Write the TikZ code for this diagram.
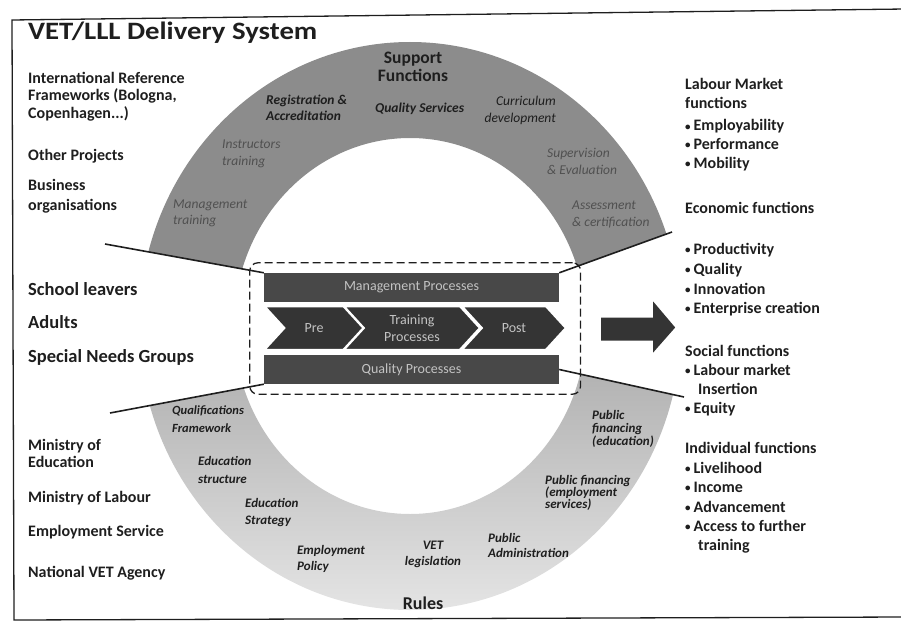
\documentclass[tikz,border=0pt]{standalone}
\usepackage{fontspec}
\setmainfont{Carlito}
\newfontfamily\widefont{Carlito}[FakeStretch=1.15]
\usepackage{tikz}
\usetikzlibrary{arrows.meta,positioning,shapes.symbols,fit,calc}
\definecolor{supportgray}{RGB}{140,140,140}
\definecolor{rulesdark}{RGB}{110,110,110}
\definecolor{ruleslight}{RGB}{228,228,228}
\definecolor{barfill}{RGB}{72,72,72}
\definecolor{chevfill}{RGB}{52,52,52}
\definecolor{bartext}{RGB}{195,195,195}
\definecolor{ink}{RGB}{30,30,30}
\definecolor{softink}{RGB}{80,80,80}
\newcommand{\dotitem}{\raisebox{1pt}{\fontsize{11}{11}\selectfont•}\hspace{3pt}}

\begin{document}
\begin{tikzpicture}[x=1pt,y=-1pt,>=Stealth,
          lefttext/.style={anchor=base west,inner sep=0,text=ink,
                           font=\bfseries\fontsize{16}{18}\selectfont},
          bigtext/.style={lefttext,font=\bfseries\fontsize{18.5}{20}\selectfont},
          righttext/.style={lefttext},
          supportlabel/.style={anchor=north west,inner sep=0,align=left,
                               text=softink,font=\itshape\fontsize{13.5}{17}\selectfont},
          ruleslabel/.style={anchor=north west,inner sep=0,align=left,text=ink,
                             font=\bfseries\itshape\fontsize{13}{16.5}\selectfont},
          procbar/.style={fill=barfill,minimum width=295,minimum height=29,
                          inner sep=0,text=bartext,font=\fontsize{14}{16}\selectfont},
          chev/.style={signal,signal from=west,signal to=east,signal pointer angle=95,
                       fill=chevfill,draw=white,line width=1.5pt,minimum height=43,
                       inner sep=0,text=bartext,align=center,
                       font=\fontsize{14}{17}\selectfont},
          link/.style={draw=ink,line width=1.6pt}]
  \useasboundingbox (0,0) rectangle (901,623);
  % frame of the page
  \draw[ink,line width=1.3pt] (905,9) -- (12,20) -- (14,620) -- (905,617);
  \node[lefttext,font=\widefont\bfseries\fontsize{25}{28}\selectfont] (title) at (28,40) {VET/LLL Delivery System};

  % support functions (upper band)
  \begin{scope}
    \clip (0,0) -- (0,225) -- (264,273) -- (559,273) -- (720,214) -- (720,0) -- cycle;
    \fill[supportgray,even odd rule] (410,326) ellipse [x radius=271,y radius=284]
                                     (410,326) ellipse [x radius=176,y radius=188];
  \end{scope}
  % rules (lower band)
  \begin{scope}
    \clip (0,623) -- (0,434) -- (264,384) -- (559,369) -- (720,405) -- (720,623) -- cycle;
    \shade[top color=rulesdark,bottom color=ruleslight,even odd rule]
          (410,326) ellipse [x radius=271,y radius=284]
          (410,326) ellipse [x radius=176,y radius=188];
  \end{scope}

  % processes
  \node[procbar] (mgmt) at (411.5,287.5) {Management Processes};
  \node[procbar] (quality) at (411.5,369.5) {Quality Processes};
  \node[chev,minimum width=98] (pre) at (314,328) {Pre};
  \node[chev,minimum width=135] (training) at (412,328) {Training\\Processes};
  \node[chev,minimum width=103] (post) at (514,328) {Post};
  \node[draw=ink,dash pattern=on 8pt off 4pt,line width=1.3pt,rounded corners=8,
        inner xsep=14,inner ysep=10,fit=(mgmt)(quality)(pre)(post)] (core) {};
  \fill[chevfill] ($(core.east)+(20,-11)$) -- ++(52,0) -- ++(0,-16) -- ++(22,26)
        -- ++(-22,25) -- ++(0,-12) -- ++(-52,0) -- cycle;

  \coordinate (inleft) at (105,244);
  \coordinate (inright) at (672,232);
  \coordinate (outleft) at (110,413);
  \coordinate (outright) at (684,397);
  \draw[link] (inleft) -- (mgmt.north west);
  \draw[link] (mgmt.north east) -- (inright);
  \draw[link] (outleft) -- (quality.south west);
  \draw[link] (quality.east) -- (outright);

  % labels on the upper band
  \node[font=\bfseries\fontsize{17.5}{18.5}\selectfont,text=ink,align=center] (support) at (413,67) {Support\\Functions};
  \node[supportlabel,text=ink,font=\bfseries\itshape\fontsize{13.5}{16}\selectfont] (regis) at (266,95) {Registration \&\\Accreditation};
  \node[supportlabel,text=ink,font=\bfseries\itshape\fontsize{13.5}{16}\selectfont] (qserv) at (375,103) {Quality Services};
  \node[supportlabel,text=ink,align=right,anchor=north east] (curric) at (556,96) {Curriculum\\development};
  \node[supportlabel] (instr) at (222,140) {Instructors\\training};
  \node[supportlabel] (superv) at (547,148) {Supervision\\\& Evaluation};
  \node[supportlabel,font=\itshape\fontsize{13.5}{16}\selectfont] (mtrain) at (173,200) {Management\\training};
  \node[supportlabel] (assess) at (572,201) {Assessment\\\& certification};

  % labels on the lower band
  \node[ruleslabel,font=\bfseries\itshape\fontsize{12.5}{18}\selectfont] (qualfw) at (172,406) {Qualifications\\Framework};
  \node[ruleslabel,font=\bfseries\itshape\fontsize{13}{18.5}\selectfont] (edstruct) at (198,456) {Education\\structure};
  \node[ruleslabel,font=\bfseries\itshape\fontsize{13}{17}\selectfont] (edstrat) at (245,498) {Education\\Strategy};
  \node[ruleslabel] (emppol) at (297,545) {Employment\\Policy};
  \node[ruleslabel,align=center,anchor=north,font=\bfseries\itshape\fontsize{13}{15.5}\selectfont] (vetleg) at (433,541) {VET\\legislation};
  \node[ruleslabel,font=\bfseries\itshape\fontsize{13}{15.5}\selectfont] (pubadm) at (488,533) {Public\\Administration};
  \node[ruleslabel,font=\bfseries\itshape\fontsize{13}{12}\selectfont] (pubemp) at (545,475) {Public financing\\(employment\\services)};
  \node[ruleslabel,font=\bfseries\itshape\fontsize{13}{13}\selectfont] (pubedu) at (592,410) {Public\\financing\\(education)};
  \node[font=\bfseries\fontsize{18}{20}\selectfont,text=ink] (rules) at (423,603) {Rules};

  % actors on the left
  \foreach \n/\yy/\txt in {a/84/{International Reference},b/101/{Frameworks (Bologna,},
                           c/118/{Copenhagen...)},d/160/{Other Projects},e/190/{Business},
                           f/210/{organisations},j/450/{Ministry of},k/467/{Education},
                           l/502/{Ministry of Labour},m/536/{Employment Service},
                           n/577/{National VET Agency}}
    \node[lefttext] (left\n) at (28,\yy) {\txt};
  \foreach \n/\yy/\txt in {g/295/{School leavers},h/328/{Adults},i/362/{Special Needs Groups}}
    \node[bigtext] (left\n) at (28,\yy) {\txt};

  % functions on the right
  \foreach \n/\yy/\txt in {a/90/{Labour Market},b/109/{functions},c/131/{\dotitem Employability},
                           d/149/{\dotitem Performance},e/168/{\dotitem Mobility},
                           f/213/{Economic functions},g/254/{\dotitem Productivity},
                           h/274/{\dotitem Quality},i/294/{\dotitem Innovation},
                           j/313/{\dotitem Enterprise creation},k/356/{Social functions},
                           l/375/{\dotitem Labour market},n/413/{\dotitem Equity},
                           o/453/{Individual functions},p/473/{\dotitem Livelihood},
                           q/492/{\dotitem Income},r/512/{\dotitem Advancement},
                           s/531/{\dotitem Access to further}}
    \node[righttext] (right\n) at (685,\yy) {\txt};
  \node[righttext] (rightm) at (698,394) {Insertion};
  \node[righttext] (rightt) at (698,550) {training};
\end{tikzpicture}
\end{document}
